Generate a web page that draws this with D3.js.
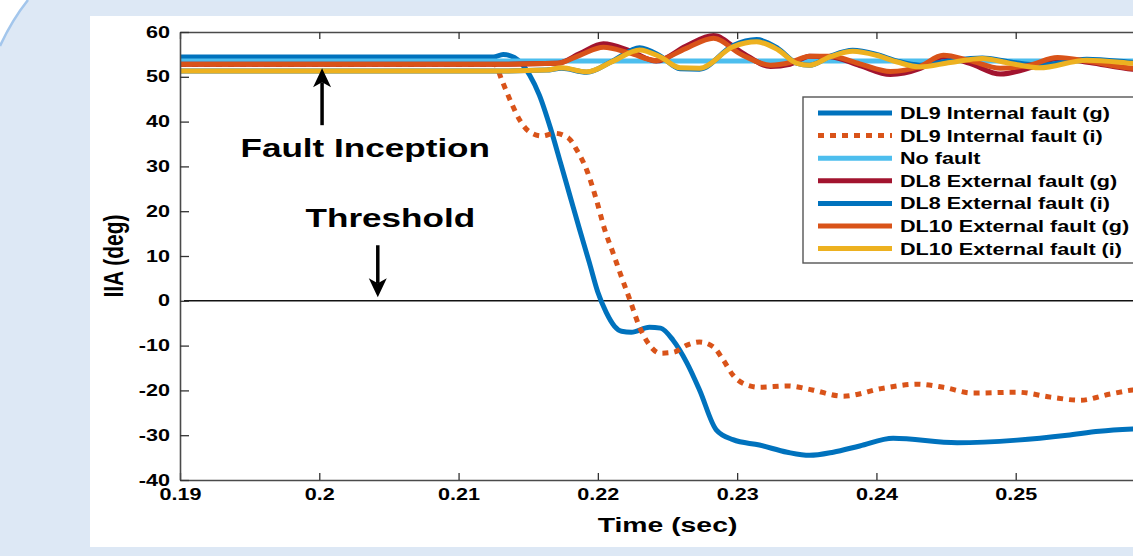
<!DOCTYPE html>
<html>
<head>
<meta charset="utf-8">
<script src="https://cdn.jsdelivr.net/npm/d3@7"></script>
<style>
  html, body { margin: 0; padding: 0; background: #dde8f5; overflow: hidden; }
  svg { display: block; }
  text { font-family: 'Liberation Sans', Arial, sans-serif; font-weight: bold; fill: #000; }
</style>
</head>
<body>
<div id="chart"></div>
<script>
// tick labels
const xTicks = [0.19, 0.2, 0.21, 0.22, 0.23, 0.24, 0.25, 0.26]
const yTicks = [-40, -30, -20, -10, 0, 10, 20, 30, 40, 50, 60]

// DL9 internal fault (g) - solid blue
const dl9gTime = [0.19, 0.2125, 0.2132, 0.214, 0.2151, 0.2158, 0.2166, 0.2173, 0.218, 0.2187, 0.2194, 0.22, 0.2206, 0.2212, 0.2217, 0.2224, 0.2237, 0.2245, 0.2254, 0.2264, 0.2273, 0.2285, 0.2297, 0.2316, 0.2336, 0.2352, 0.2369, 0.2388, 0.2412, 0.2458, 0.2501, 0.2537, 0.256, 0.2584, 0.26]
const dl9gVals = [54.4, 54.4, 55.0, 54.3, 50.4, 45.9, 38.5, 31.0, 23.4, 15.8, 8.4, 1.9, -2.6, -5.7, -6.8, -7, -5.9, -6.1, -8.8, -13.9, -19.9, -28.8, -31, -32.2, -33.8, -34.5, -33.8, -32.4, -30.7, -31.7, -31.1, -30, -29.1, -28.6, -28.4]

// DL9 internal fault (i) - dotted orange
const dl9iTime = [0.19, 0.2126, 0.2131, 0.2138, 0.2144, 0.2151, 0.216, 0.2169, 0.2179, 0.2185, 0.2192, 0.2199, 0.2205, 0.2211, 0.2217, 0.2223, 0.223, 0.2236, 0.2245, 0.2254, 0.2264, 0.2273, 0.2283, 0.229, 0.2297, 0.2307, 0.2316, 0.2336, 0.2354, 0.2376, 0.2405, 0.2429, 0.2448, 0.2469, 0.2501, 0.2525, 0.2546, 0.2568, 0.2584, 0.26]
const dl9iVals = [52.8, 52.8, 49.3, 44.1, 40.3, 37.7, 36.8, 37.4, 36.3, 33.6, 29.2, 22.5, 15.8, 10.6, 5.3, 0.2, -5.9, -9.4, -11.7, -11.5, -9.9, -9.2, -10.3, -13.2, -16.6, -18.8, -19.3, -19.0, -19.9, -21.3, -19.5, -18.6, -19.3, -20.6, -20.4, -21.5, -22.2, -20.8, -19.9, -19.5]

// no fault
const noFaultTime = [0.19, 0.26]
const noFaultVals = [53.5, 53.5]

// external faults, (g) side
const extGTime = [0.19, 0.213, 0.2171, 0.2187, 0.2204, 0.2223, 0.2242, 0.2263, 0.2283, 0.2303, 0.2324, 0.2338, 0.2352, 0.2367, 0.2388, 0.241, 0.2431, 0.2448, 0.2467, 0.2489, 0.251, 0.253, 0.2553, 0.2584, 0.26]
const dl8gVals = [52.8, 52.8, 53.0, 55.2, 57.4, 55.8, 53.5, 56.8, 59.2, 55.5, 52.3, 52.8, 54.6, 54.5, 52.5, 50.5, 51.8, 54.4, 53.0, 50.6, 52.0, 54.1, 53.2, 51.7, 51.5]
const dl10gVals = [52.8, 52.8, 53.0, 54.8, 56.6, 55.3, 53.6, 56.3, 58.6, 55.0, 52.6, 53.2, 54.6, 54.6, 52.9, 51.2, 52.3, 54.8, 53.6, 51.9, 52.6, 54.3, 53.4, 51.9, 51.7]

// external faults, (i) side
const extITime = [0.19, 0.213, 0.2163, 0.2174, 0.2192, 0.2211, 0.223, 0.2245, 0.2259, 0.2273, 0.2297, 0.2314, 0.2329, 0.2343, 0.2352, 0.2367, 0.2383, 0.24, 0.2415, 0.2431, 0.2453, 0.2476, 0.2496, 0.2517, 0.2551, 0.2584, 0.26]
const dl8iVals = [51.3, 51.3, 51.5, 51.9, 51.0, 53.6, 56.5, 54.6, 51.8, 51.7, 57.0, 58.3, 56.4, 53.0, 52.6, 54.6, 55.9, 55.0, 53.5, 52.6, 53.6, 54.2, 53.3, 52.6, 53.9, 53.2, 52.8]
const dl10iVals = [51.3, 51.3, 51.5, 52.0, 51.1, 53.5, 56.0, 54.4, 52.0, 51.9, 56.7, 57.8, 56.1, 53.0, 52.6, 54.5, 55.7, 54.8, 53.3, 52.2, 53.2, 54.1, 53.0, 52.0, 53.7, 53.0, 52.6]

const seriesNames = [
  'DL9 Internal fault (g)',
  'DL9 Internal fault (i)',
  'No fault',
  'DL8 External fault (g)',
  'DL8 External fault (i)',
  'DL10 External fault (g)',
  'DL10 External fault (i)',
]
const seriesColors = ['#0072bd', '#d95319', '#4dbeee', '#a2142f', '#0072bd', '#d95319', '#edb120']

const series = [
  { t: dl9gTime, v: dl9gVals, dash: null },
  { t: dl9iTime, v: dl9iVals, dash: '6,6' },
  { t: noFaultTime, v: noFaultVals, dash: null },
  { t: extGTime, v: dl8gVals, dash: null },
  { t: extITime, v: dl8iVals, dash: null },
  { t: extGTime, v: dl10gVals, dash: null },
  { t: extITime, v: dl10iVals, dash: null },
]

// the source picture is stretched sideways, so is the text
const SX = 1.35

const W = 1133
const H = 556
const margin = { top: 32, left: 180 }
const innerW = 975
const innerH = 448

const svg = d3.select('#chart').append('svg').attr('width', W).attr('height', H)

// page background and decoration
svg.append('rect').attr('width', W).attr('height', H).attr('fill', '#dde8f5')
svg.append('path').attr('d', 'M0,0 L28,0 Q12,20 0,46 Z').attr('fill', '#ffffff')
svg.append('path').attr('d', 'M28,0 Q12,20 0,46').attr('fill', 'none')
  .attr('stroke', '#a3c6ec').attr('stroke-width', 2.5)
svg.append('rect').attr('x', 90).attr('y', 16).attr('width', 1060).attr('height', 531).attr('fill', '#fff')

const x = d3.scaleLinear().domain([0.19, 0.26]).range([margin.left, margin.left + innerW])
const y = d3.scaleLinear().domain([-40, 60]).range([margin.top + innerH, margin.top])

function stretched(sel, px, py) {
  return sel.attr('transform', `translate(${px},${py}) scale(${SX},1)`)
}

// threshold line at zero
svg.append('line')
  .attr('x1', x(0.19) + 4).attr('x2', x(0.26))
  .attr('y1', y(0)).attr('y2', y(0))
  .attr('stroke', '#111').attr('stroke-width', 1.6)

// data lines
series.forEach((s, i) => {
  const pts = s.t.map((t, k) => [t, s.v[k]])
  svg.append('path')
    .datum(pts)
    .attr('fill', 'none')
    .attr('stroke', seriesColors[i])
    .attr('stroke-width', 5)
    .attr('stroke-dasharray', s.dash)
    .attr('stroke-linejoin', 'round')
    .attr('d', d3.line().x((d) => x(d[0])).y((d) => y(d[1])).curve(d3.curveMonotoneX))
})

// axes (inward ticks)
const axisColor = '#4a4a4a'
const fmtX = (d) => String(+d.toFixed(2))

const gx = svg.append('g')
  .attr('transform', `translate(0,${margin.top + innerH})`)
  .call(d3.axisBottom(x).tickValues(xTicks).tickSize(-7).tickSizeOuter(0).tickPadding(9).tickFormat(fmtX))
const gxTop = svg.append('g')
  .attr('transform', `translate(0,${margin.top})`)
  .call(d3.axisTop(x).tickValues(xTicks).tickSize(-7).tickSizeOuter(0).tickFormat(''))
const gy = svg.append('g')
  .attr('transform', `translate(${margin.left},0)`)
  .call(d3.axisLeft(y).tickValues(yTicks).tickSize(-9).tickSizeOuter(0).tickFormat((d) => String(d)))

;[gx, gxTop, gy].forEach((g) => {
  g.select('.domain').attr('stroke', axisColor).attr('stroke-width', 1.6)
  g.selectAll('.tick line').attr('stroke', '#333').attr('stroke-width', 1.3)
})
gx.selectAll('.tick text')
  .attr('font-size', 16).attr('font-family', null)
  .attr('transform', `scale(${SX},1)`)
gy.selectAll('.tick text')
  .attr('font-size', 16).attr('font-family', null)
  .attr('x', -10 / SX)
  .attr('transform', `scale(${SX},1)`)

// axis titles
stretched(svg.append('text'), x(0.2250), 532)
  .attr('text-anchor', 'middle').attr('font-size', 21).text('Time (sec)')
svg.append('text')
  .attr('transform', `translate(123,${y(10)}) scale(${SX},1) rotate(-90)`)
  .attr('text-anchor', 'middle').attr('font-size', 21).text('IIA (deg)')

// annotations
function arrow(xv, yFrom, yTo) {
  const x0 = x(xv)
  const y0 = y(yFrom)
  const y1 = y(yTo)
  const dir = y1 < y0 ? 1 : -1
  svg.append('line')
    .attr('x1', x0).attr('x2', x0).attr('y1', y0).attr('y2', y1 + dir * 14)
    .attr('stroke', '#000').attr('stroke-width', 3.5)
  svg.append('path')
    .attr('d', `M${x0},${y1} L${x0 - 9},${y1 + dir * 19} L${x0},${y1 + dir * 14} L${x0 + 9},${y1 + dir * 19} Z`)
    .attr('fill', '#000')
}
arrow(0.2002, 39.2, 51.9)
arrow(0.2042, 12.4, 0.8)
stretched(svg.append('text'), x(0.2033), y(32.1))
  .attr('text-anchor', 'middle').attr('font-size', 26).text('Fault Inception')
stretched(svg.append('text'), x(0.2051), y(16.4))
  .attr('text-anchor', 'middle').attr('font-size', 26).text('Threshold')

// legend
const legend = svg.append('g').attr('transform', 'translate(803,97)')
legend.append('rect')
  .attr('width', 345).attr('height', 166)
  .attr('fill', '#fff').attr('stroke', '#555').attr('stroke-width', 1.4)
seriesNames.forEach((name, i) => {
  const ry = 16 + i * 22.6
  legend.append('line')
    .attr('x1', 15).attr('x2', 89).attr('y1', ry).attr('y2', ry)
    .attr('stroke', seriesColors[i]).attr('stroke-width', 5)
    .attr('stroke-dasharray', series[i].dash)
  stretched(legend.append('text'), 97, ry + 6)
    .attr('font-size', 16).text(name)
})
</script>
</body>
</html>
